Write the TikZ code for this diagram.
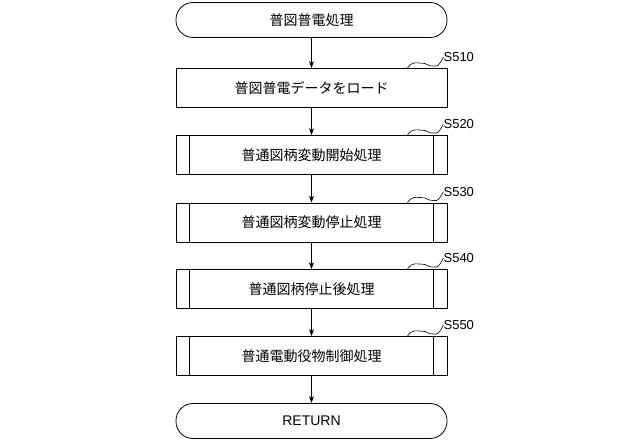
\documentclass[tikz,border=0pt]{standalone}
\usepackage{fontspec}
\newfontfamily\jp{Noto Sans CJK JP}
\usetikzlibrary{arrows.meta}
\begin{document}
\begin{tikzpicture}[x=1pt,y=-1pt,
  box/.style={draw,line width=0.8pt,minimum width=271pt,minimum height=39pt,inner sep=0pt,font=\jp\fontsize{14}{16}\selectfont},
  term/.style={box,rounded corners=17pt,minimum height=35pt},
  arr/.style={-{Stealth[length=7pt,width=5pt]},line width=0.8pt},
  lab/.style={font=\fontspec{Liberation Sans}\fontsize{13}{15}\selectfont,anchor=west,inner sep=0pt}]
\useasboundingbox (0,0) rectangle (640,446);
\node[term] (t0) at (311.5,20) {普図普電処理};
\node[box] (s1) at (311.5,88) {普図普電データをロード};
\node[box] (s2) at (311.5,155) {普通図柄変動開始処理};
\node[box] (s3) at (311.5,222.5) {普通図柄変動停止処理};
\node[box] (s4) at (311.5,289) {普通図柄停止後処理};
\node[box] (s5) at (311.5,356) {普通電動役物制御処理};
\node[term] (t1) at (311.5,421) {\fontspec{Liberation Sans}RETURN};
\foreach \n in {s2,s3,s4,s5}{
  \draw[line width=0.8pt] ([xshift=14pt]\n.north west) -- ([xshift=14pt]\n.south west);
  \draw[line width=0.8pt] ([xshift=-14pt]\n.north east) -- ([xshift=-14pt]\n.south east);
}
\foreach \n/\l in {s1/S510,s2/S520,s3/S530,s4/S540,s5/S550}{
  \coordinate (c\n) at ([xshift=-40pt]\n.north east);
  \node[lab] (l\n) at ([xshift=-4pt,yshift=11pt]\n.north east) {\l};
  \draw[line width=0.6pt] (c\n) .. controls +(5,-7) and +(-6,0) .. ++(14,-5) .. controls +(6,0) and +(-6,0) .. ++(12,3) .. controls +(5,0) .. (l\n.west);
}
\draw[arr] (t0) -- (s1);
\draw[arr] (s1) -- (s2);
\draw[arr] (s2) -- (s3);
\draw[arr] (s3) -- (s4);
\draw[arr] (s4) -- (s5);
\draw[arr] (s5) -- (t1);
\end{tikzpicture}
\end{document}
